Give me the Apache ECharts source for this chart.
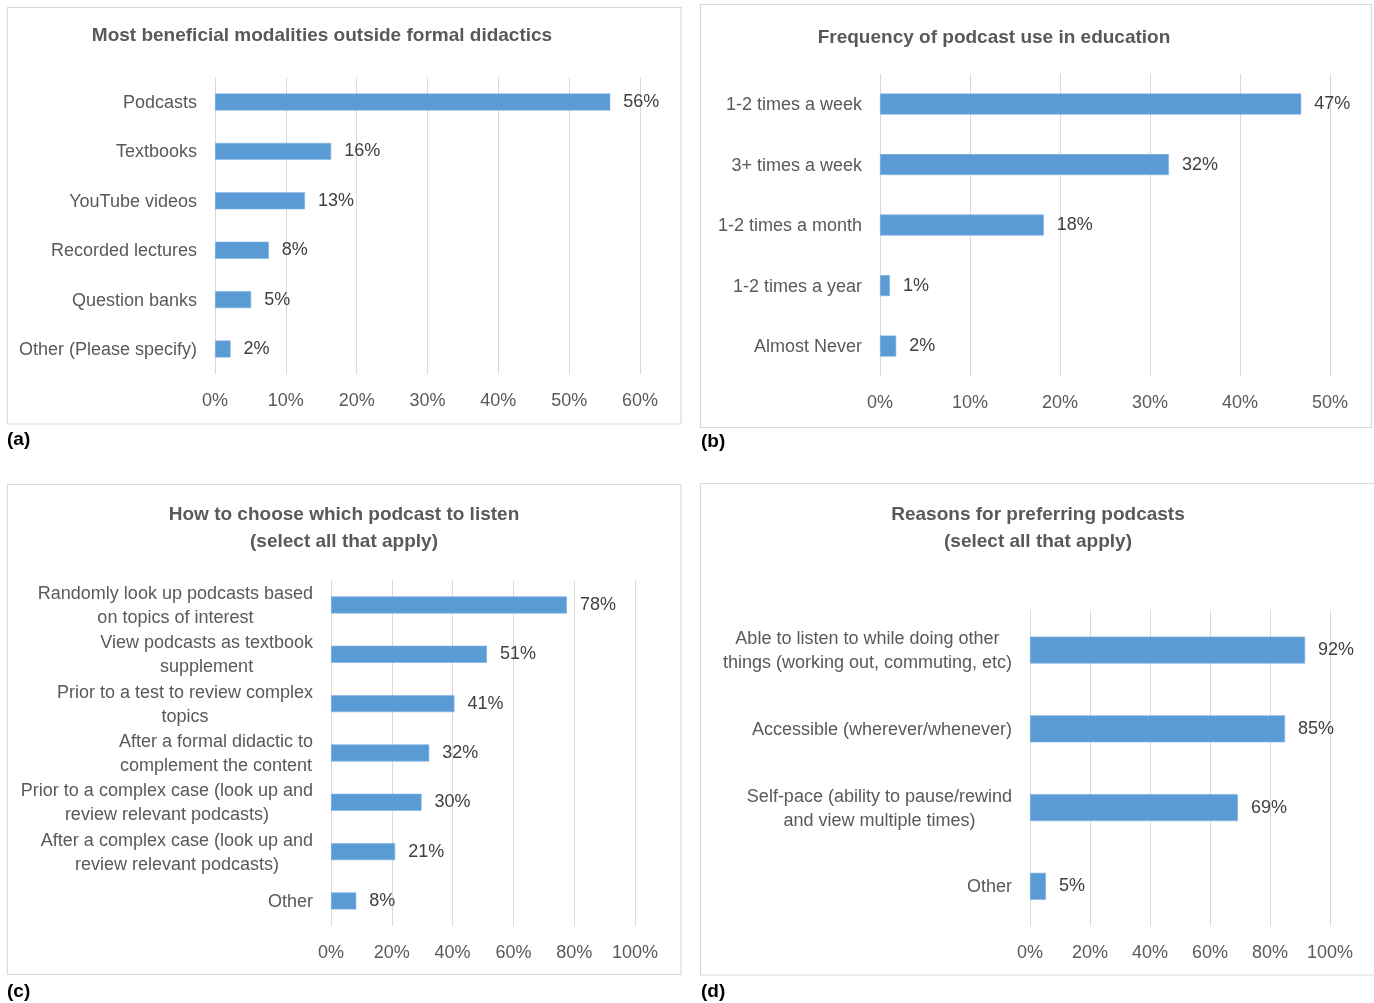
<!DOCTYPE html>
<html><head><meta charset="utf-8">
<script src="https://cdn.jsdelivr.net/npm/echarts@6/dist/echarts.min.js"></script>
<style>html,body{margin:0;padding:0;background:#fff}#c{width:1374px;height:1003px}</style>
</head><body><div id="c"></div><script>
// ---------- data ----------
const titleA = 'Most beneficial modalities outside formal didactics';
const catsA = ['Podcasts', 'Textbooks', 'YouTube videos', 'Recorded lectures', 'Question banks', 'Other (Please specify)'];
const valsA = [55.8, 16.4, 12.7, 7.6, 5.1, 2.2];
const ticksA = [0, 10, 20, 30, 40, 50, 60];

const titleB = 'Frequency of podcast use in education';
const catsB = ['1-2 times a week', '3+ times a week', '1-2 times a month', '1-2 times a year', 'Almost Never'];
const valsB = [46.8, 32.1, 18.2, 1.1, 1.8];
const ticksB = [0, 10, 20, 30, 40, 50];

const titleC = 'How to choose which podcast to listen\n(select all that apply)';
const catsC = ['Randomly look up podcasts based\non topics of interest', 'View podcasts as textbook\nsupplement', 'Prior to a test to review complex\ntopics', 'After a formal didactic to\ncomplement the content', 'Prior to a complex case (look up and\nreview relevant podcasts)', 'After a complex case (look up and\nreview relevant podcasts)', 'Other'];
const valsC = [77.6, 51.3, 40.6, 32.3, 29.8, 21.1, 8.3];
const ticksC = [0, 20, 40, 60, 80, 100];

const titleD = 'Reasons for preferring podcasts\n(select all that apply)';
const catsD = ['Able to listen to while doing other\nthings (working out, commuting, etc)', 'Accessible (wherever/whenever)', 'Self-pace (ability to pause/rewind\nand view multiple times)', 'Other'];
const valsD = [91.7, 85.0, 69.3, 5.3];
const ticksD = [0, 20, 40, 60, 80, 100];

const panelTags = ['(a)', '(b)', '(c)', '(d)'];

// ---------- style ----------
const FONT = "'Liberation Sans Narrow','Liberation Sans',sans-serif";
const BAR = '#5B9BD5';
const GRID = '#D9D9D9';
const TXT = '#595959';
const VAL = '#404040';

const panels = [
  {title: titleA, cats: catsA, vals: valsA, ticks: ticksA, grid: {left: 215, top: 77.3, width: 425, height: 296.4}, barW: 17, tx: 322, ty: 36,
   box: [7.5, 7.5, 673.5, 416.5], tag: [7, 440]},
  {title: titleB, cats: catsB, vals: valsB, ticks: ticksB, grid: {left: 880, top: 73.8, width: 450, height: 302.5}, barW: 21, tx: 994, ty: 38,
   box: [700.5, 4.5, 671, 423], tag: [701, 442]},
  {title: titleC, cats: catsC, vals: valsC, ticks: ticksC, grid: {left: 331, top: 580.3, width: 304, height: 345.3}, barW: 17, tx: 344, ty: 528,
   box: [7.5, 484.5, 673.5, 490], tag: [7, 992]},
  {title: titleD, cats: catsD, vals: valsD, ticks: ticksD, grid: {left: 1030, top: 610.7, width: 300, height: 315}, barW: 27, tx: 1038, ty: 528,
   box: [700.5, 483.5, 680, 491.5], tag: [701, 992]}
];

const grids = [], xAxes = [], yAxes = [], series = [], graphics = [];
panels.forEach((p, i) => {
  grids.push(Object.assign({containLabel: false}, p.grid));
  const step = p.ticks[1] - p.ticks[0];
  xAxes.push({
    type: 'value', gridIndex: i, min: p.ticks[0], max: p.ticks[p.ticks.length - 1], interval: step,
    axisLine: {show: false}, axisTick: {show: false},
    splitLine: {show: true, lineStyle: {color: GRID, width: 1}},
    axisLabel: {formatter: '{value}%', color: TXT, fontFamily: FONT, fontSize: 18, margin: 18}
  });
  yAxes.push({
    type: 'category', gridIndex: i, data: p.cats, inverse: true,
    axisLine: {show: false}, axisTick: {show: false}, splitLine: {show: false},
    axisLabel: {
      color: TXT, fontFamily: FONT, fontSize: 18, margin: 18, lineHeight: 24,
      formatter: v => v.split('\n').map(l => '{m|' + l + '}').join('\n'),
      rich: {m: {align: 'center', color: TXT, fontFamily: FONT, fontSize: 18, lineHeight: 24, padding: [2, 0, 0, 0]}}
    }
  });
  series.push({
    type: 'bar', xAxisIndex: i, yAxisIndex: i, data: p.vals, barWidth: p.barW,
    itemStyle: {color: BAR, borderColor: '#7FB2E0', borderWidth: 0.6},
    label: {show: true, position: 'right', distance: 13, color: VAL, fontFamily: FONT, fontSize: 18,
            padding: [2, 0, 0, 0], formatter: q => Math.round(q.value) + '%'},
    silent: true, animation: false
  });
  graphics.push({type: 'rect', silent: true, z: -1,
    shape: {x: p.box[0], y: p.box[1], width: p.box[2], height: p.box[3]},
    style: {fill: 'none', stroke: GRID, lineWidth: 1.2}});
  graphics.push({type: 'text', silent: true, x: p.tx, y: p.ty,
    style: {text: p.title, align: 'center', verticalAlign: 'middle', fill: TXT,
            font: "bold 19px " + FONT, lineHeight: 27}});
  graphics.push({type: 'text', silent: true, x: p.tag[0], y: p.tag[1],
    style: {text: panelTags[i], align: 'left', verticalAlign: 'middle', fill: '#000',
            font: "bold 19px " + FONT}});
});

const chart = echarts.init(document.getElementById('c'), null, {renderer: 'canvas'});
chart.setOption({
  animation: false,
  backgroundColor: '#fff',
  grid: grids, xAxis: xAxes, yAxis: yAxes, series: series, graphic: graphics
});
</script></body></html>
